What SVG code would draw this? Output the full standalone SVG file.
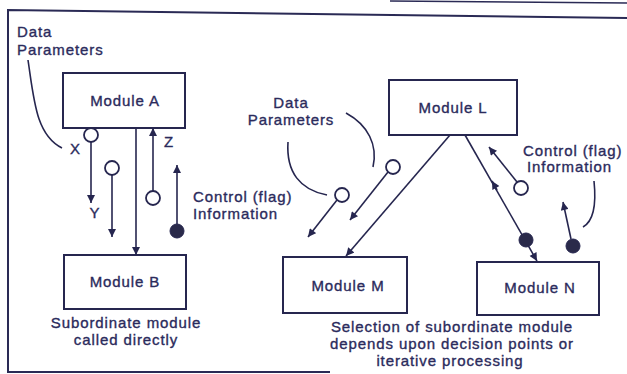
<svg xmlns="http://www.w3.org/2000/svg" width="627" height="374" viewBox="0 0 627 374">
<defs>
<style>
.t{font-family:"Liberation Sans",Arial,sans-serif;font-size:15px;fill:#2b2b5c;stroke:#2b2b5c;stroke-width:0.35px;letter-spacing:0.9px}
.m{text-anchor:middle}
.box{fill:#fff;stroke:#26264f;stroke-width:2}
.ln{fill:none;stroke:#26264f;stroke-width:1.6}
.ar{fill:none;stroke:#26264f;stroke-width:1.6;marker-end:url(#ah)}
.oc{fill:#fff;stroke:#26264f;stroke-width:1.8}
.fc{fill:#2a2a4a;stroke:#26264f;stroke-width:1}
</style>
<marker id="ah" viewBox="0 0 10 10" refX="10" refY="5" markerUnits="userSpaceOnUse" markerWidth="9" markerHeight="8" orient="auto">
<path d="M0,0 L10,5 L0,10 z" fill="#26264f"/>
</marker>
</defs>
<rect width="627" height="374" fill="#fff"/>
<g id="frame">
<path d="M627,18 L8,10 L8,372 L330,372" fill="none" stroke="#2a2a55" stroke-width="2"/>
<path d="M390,1 L627,3" fill="none" stroke="#2a2a55" stroke-width="1.5"/>
</g>
<g id="moduleA"><rect class="box" x="63" y="73" width="122" height="55"/><text class="t m" x="125" y="106">Module A</text></g>
<g id="moduleB"><rect class="box" x="64" y="255" width="122" height="54"/><text class="t m" x="125" y="287">Module B</text></g>
<g id="moduleL"><rect class="box" x="389" y="80" width="128" height="55"/><text class="t m" x="453" y="113">Module L</text></g>
<g id="moduleM"><rect class="box" x="283" y="257" width="124" height="56"/><text class="t m" x="348" y="291">Module M</text></g>
<g id="moduleN"><rect class="box" x="477" y="262" width="122" height="53"/><text class="t m" x="540" y="293">Module N</text></g>
<g id="connectors">
<path class="ar" d="M136,128 L136,255"/>
<path class="ar" d="M91,142 L91,203"/>
<path class="ar" d="M112,175 L112,237"/>
<path class="ar" d="M153,191 L153,128"/>
<path class="ar" d="M177,224 L177,165"/>
<path class="ar" d="M450,135 L346,256"/>
<path class="ar" d="M465,135 L537,261"/>
<path class="ar" d="M497,190 L492,181"/>
<path class="ar" d="M337,200 L308,237"/>
<path class="ar" d="M388,172 L350,220"/>
<path class="ar" d="M517,182 L489,147"/>
<path class="ar" d="M571,239 L563,202"/>
<path class="ln" d="M28,60 C34,100 36,135 62,148"/>
<path class="ln" d="M288,142 C286,172 300,190 327,195"/>
<path class="ln" d="M346,113 C368,125 378,145 373,167"/>
<path class="ln" d="M594,181 C597,210 592,222 583,227"/>
<circle class="oc" cx="91" cy="135" r="7"/>
<circle class="oc" cx="112" cy="168" r="7"/>
<circle class="oc" cx="153" cy="198" r="7"/>
<circle class="fc" cx="177" cy="231" r="7"/>
<circle class="oc" cx="342" cy="195" r="7"/>
<circle class="oc" cx="393" cy="167" r="7"/>
<circle class="oc" cx="521" cy="188" r="7"/>
<circle class="fc" cx="526" cy="240" r="7"/>
<circle class="fc" cx="573" cy="246" r="7"/>
</g>
<g id="labels">
<text class="t" x="17" y="37">Data</text>
<text class="t" x="17" y="55">Parameters</text>
<text class="t" x="70" y="154">X</text>
<text class="t m" x="95" y="218">Y</text>
<text class="t m" x="169" y="147">Z</text>
<text class="t" x="193" y="202">Control (flag)</text>
<text class="t" x="193" y="219">Information</text>
<text class="t m" x="126" y="328">Subordinate module</text>
<text class="t m" x="126" y="345">called directly</text>
<text class="t m" x="291" y="108">Data</text>
<text class="t m" x="291" y="125">Parameters</text>
<text class="t" x="523" y="156">Control (flag)</text>
<text class="t" x="527" y="172">Information</text>
<text class="t m" x="452" y="332">Selection of subordinate module</text>
<text class="t m" x="452" y="349">depends upon decision points or</text>
<text class="t m" x="450" y="366">iterative processing</text>
</g>
</svg>
